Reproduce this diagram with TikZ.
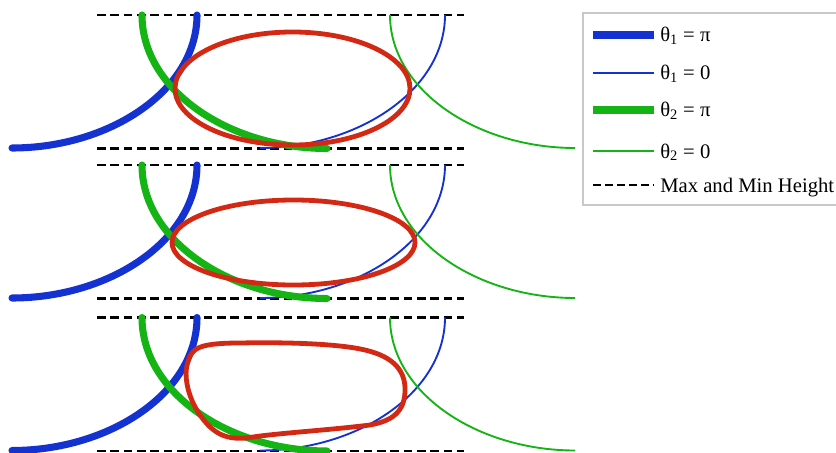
\documentclass[tikz,border=0pt]{standalone}
\usepackage{fontspec}
\setmainfont{Liberation Serif}
\usepackage{xcolor}
\definecolor{armblue}{HTML}{1432D2}
\definecolor{armgreen}{HTML}{14B414}
\definecolor{footred}{HTML}{D22814}
\definecolor{boxbd}{HTML}{C8C8C8}
\usetikzlibrary{positioning}

\begin{document}
\begin{tikzpicture}[
        x=0.75pt, y=-0.75pt,
        font=\fontsize{15.5}{18}\selectfont,
        thickarc/.style={line width=5.3pt, line cap=round},
        thinarc/.style={line width=1.4pt},
        limit/.style={draw=black, line width=2pt, dash pattern=on 6.5pt off 3.5pt},
        footpath/.style={draw=footred, line width=3.6pt},
        legtext/.style={anchor=base west, inner sep=0pt}
    ]
    \useasboundingbox (0,0) rectangle (836,453);

    % Limits and leg arcs, same in every panel
    \foreach \dy in {0,150,302.5} {
      \begin{scope}[shift={(0,\dy)}]
        \draw[limit] (97,15) -- (464,15);
        \draw[limit] (97,148.5) -- (464,148.5);
        \draw[thickarc, armblue] (12,148) .. controls (110,148) and (197,90) .. (197,15);
        \draw[thinarc, armblue] (260,148) .. controls (358,148) and (445,90) .. (445,15);
        \draw[thickarc, armgreen] (327,148.5) .. controls (229,148.5) and (142,90) .. (142,15);
        \draw[thinarc, armgreen] (575,148) .. controls (477,148) and (390,90) .. (390,15);
      \end{scope}
    }

    % Foot paths
    \draw[footpath] (292.5,88.5) ellipse [x radius=117.5, y radius=56.5];
    \draw[footpath] (293.5,242.5) ellipse [x radius=121.5, y radius=42.5];
    \draw[footpath] (193,352) .. controls (198,345) and (215,343) .. (240,343)
        .. controls (290,342) and (340,344) .. (365,350)
        .. controls (395,357) and (406,372) .. (405,392)
        .. controls (404,412) and (392,421) .. (370,425)
        .. controls (330,430) and (280,433) .. (253,437)
        .. controls (225,442) and (212,432) .. (200,415)
        .. controls (188,398) and (183,375) .. (188,362)
        .. controls (189,358) and (190,355) .. cycle;

    % Legend
    \draw[boxbd, line width=1pt] (583,13) rectangle (850,205);
    \draw[armblue, line width=6.5pt] (593,35) -- (654,35);
    \node[legtext] (leg_b1) at (660,42) {θ\textsubscript{1} = π};
    \draw[armblue, line width=1.4pt] (593,72.7) -- (654,72.7);
    \node[legtext] (leg_b0) at (660,79.7) {θ\textsubscript{1} = 0};
    \draw[armgreen, line width=6.5pt] (593,110) -- (654,110);
    \node[legtext] (leg_g1) at (660,117) {θ\textsubscript{2} = π};
    \draw[armgreen, line width=1.4pt] (593,151) -- (654,151);
    \node[legtext] (leg_g0) at (660,158) {θ\textsubscript{2} = 0};
    \draw[black, line width=2pt, dash pattern=on 6pt off 3pt] (593,185) -- (654,185);
    \node[legtext] (leg_h) at (660,192.5) {Max and Min Height};

\end{tikzpicture}
\end{document}
